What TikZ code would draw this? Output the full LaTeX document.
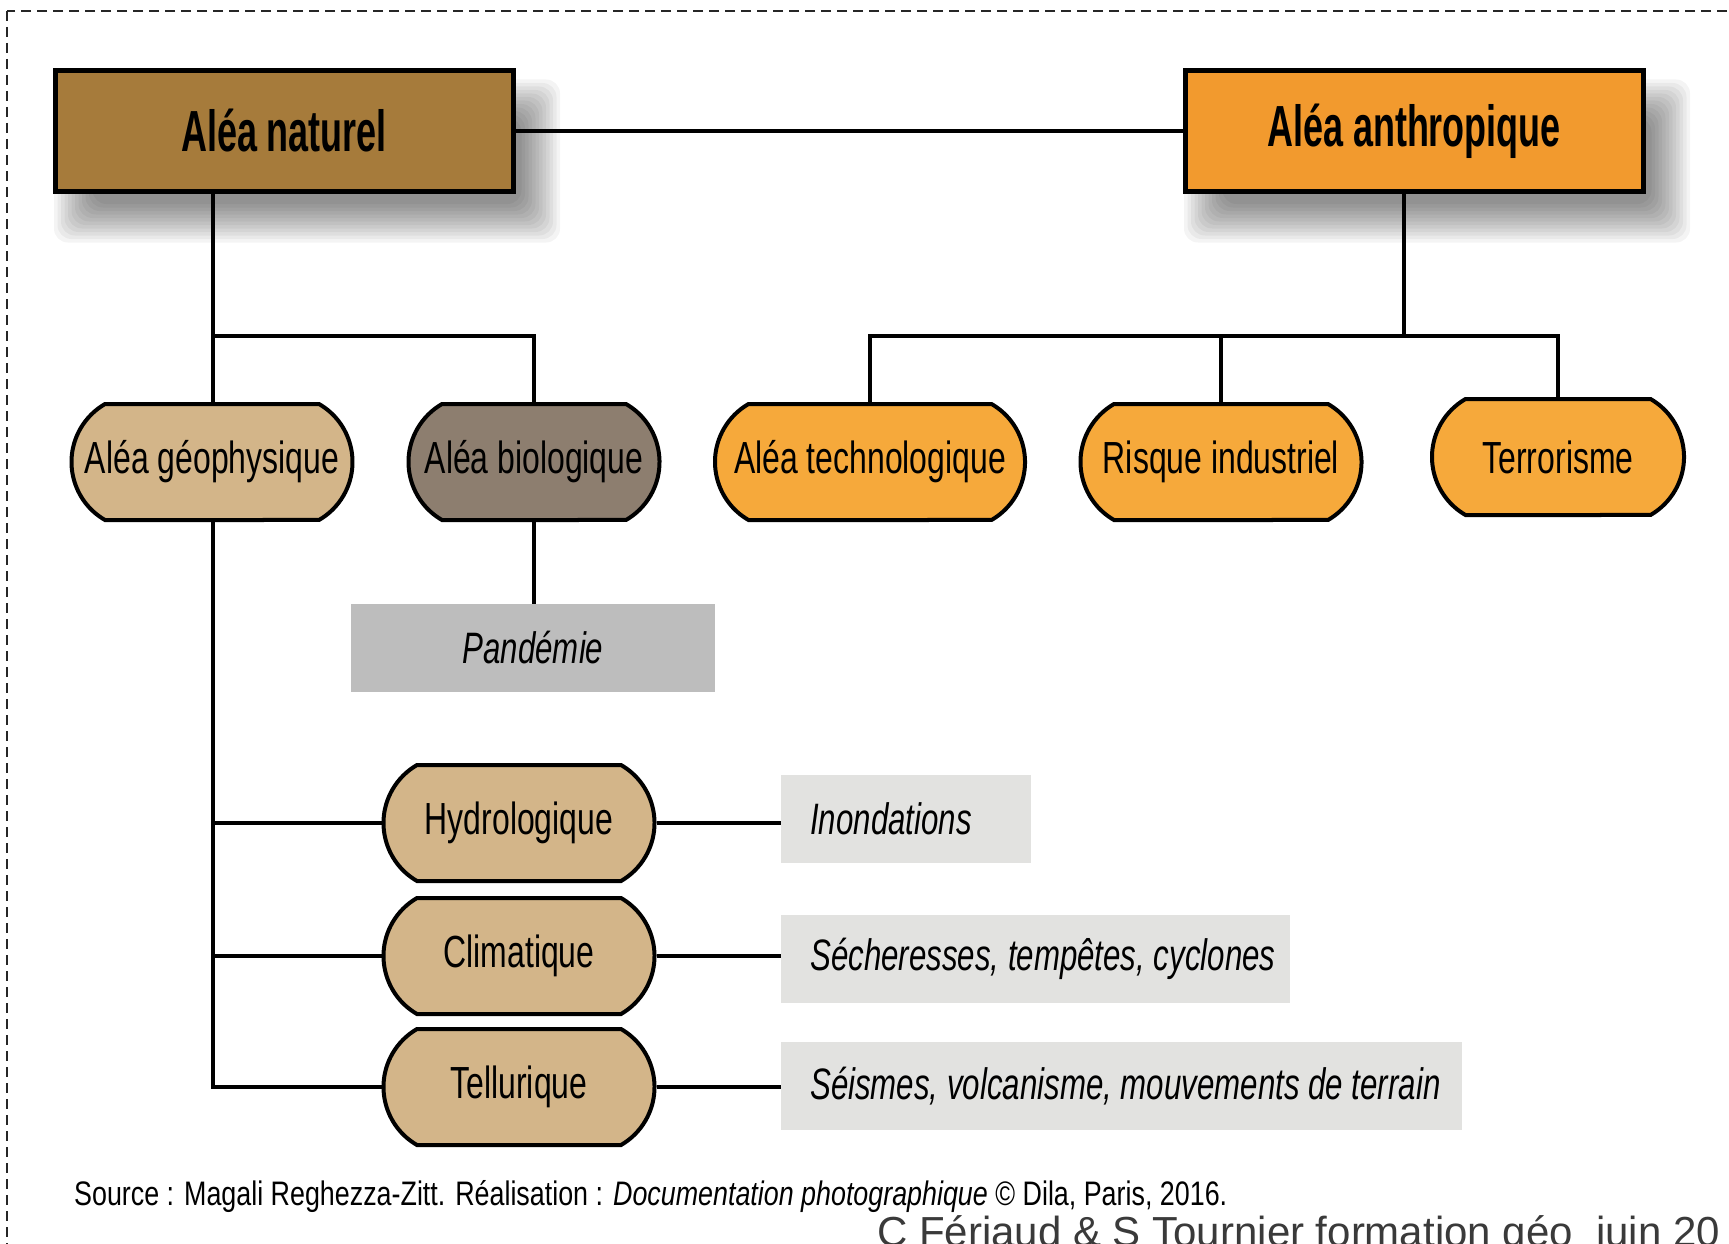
\documentclass[tikz,border=0pt]{standalone}
\usepackage{fontspec}
\setmainfont{Liberation Sans}
\newfontfamily\condf[FakeStretch=0.71]{Liberation Sans}
\newfontfamily\titlef[FakeStretch=0.62]{Liberation Sans}
\newfontfamily\srcf[FakeStretch=0.79]{Liberation Sans}
\usetikzlibrary{shapes.misc,backgrounds}
\definecolor{natfill}{HTML}{A67B3B}
\definecolor{anthfill}{HTML}{F29A2E}
\definecolor{orangepill}{HTML}{F6A93B}
\definecolor{tanfill}{HTML}{D3B589}
\definecolor{biofill}{HTML}{8D7E6F}
\definecolor{pandfill}{HTML}{BDBDBD}
\definecolor{lgray}{HTML}{E2E2E0}
\definecolor{credgray}{HTML}{3A3A3A}
\begin{document}
\begin{tikzpicture}[x=1pt,y=-1pt,
  conn/.style={line width=3.5pt, black},
  titlebox/.style={draw, line width=5pt, rectangle, minimum height=121pt, inner sep=0pt,
    font=\titlef\bfseries\fontsize{58}{64}\selectfont},
  pill/.style={draw, line width=4pt, rounded rectangle, rounded rectangle arc length=120,
    minimum height=116pt, inner xsep=-40pt, inner ysep=0pt,
    font=\condf\fontsize{45}{50}\selectfont},
  graybox/.style={fill=lgray, anchor=west, inner xsep=29pt, inner ysep=0pt, minimum height=88pt,
    font=\condf\itshape\fontsize{44}{50}\selectfont},
  border/.style={line width=2.5pt, draw=black!85, dash pattern=on 10pt off 6pt}]
\useasboundingbox (0,0) rectangle (1729,1244);
\clip (0,0) rectangle (1729,1244);
\draw[border] (7,11) rectangle (1780,1290);

% title boxes
\node[titlebox, fill=natfill, minimum width=458pt] (nat) at (284,131) {Aléa naturel};
\node[titlebox, fill=anthfill, minimum width=458pt] (anth) at (1414,131) {Aléa anthropique};

% pills (minimum width = width of the straight part)
\node[pill, fill=tanfill, minimum width=201pt] (geo) at (212,462) {Aléa géophysique};
\node[pill, fill=biofill, minimum width=171pt] (bio) at (534,462) {Aléa biologique};
\node[pill, fill=orangepill, minimum width=230pt] (tech) at (870,462) {Aléa technologique};
\node[pill, fill=orangepill, minimum width=201pt] (ind) at (1221,462) {Risque industriel};
\node[pill, fill=orangepill, minimum width=172pt] (terr) at (1558,457) {Terrorisme};
\node[pill, fill=tanfill, minimum width=191pt] (hyd) at (519,823) {Hydrologique};
\node[pill, fill=tanfill, minimum width=191pt] (cli) at (519,956) {Climatique};
\node[pill, fill=tanfill, minimum width=191pt] (tel) at (519,1087) {Tellurique};

% gray boxes
\node[fill=pandfill, minimum width=364pt, minimum height=88pt, inner sep=0pt,
  font=\condf\itshape\fontsize{44}{50}\selectfont] (pand) at (533,648) {Pandémie};
\node[graybox] (ino) at (781,819) {\makebox[192pt][l]{Inondations}};
\node[graybox] (sec) at (781,959) {\makebox[451pt][l]{Sécheresses, tempêtes, cyclones}};
\node[graybox] (sei) at (781,1086) {\makebox[623pt][l]{Séismes, volcanisme, mouvements de terrain}};

% texts
\node[anchor=west, inner sep=0pt, font=\srcf\fontsize{34}{38}\selectfont] (src) at (74,1196)
  {Source : Magali Reghezza-Zitt. Réalisation : \textit{Documentation photographique} © Dila, Paris, 2016.};
\node[anchor=west, inner sep=0pt, text=credgray, font=\fontsize{42}{46}\selectfont] (cred) at (877,1235)
  {C Fériaud \& S Tournier formation géo\ \ juin 20};

% connectors
\coordinate (j1) at (213,336);
\coordinate (ja) at (1404,336);
\draw[conn] (nat) -- (anth);
\draw[conn] (j1 |- nat.south) -- (j1 |- geo.north);
\draw[conn] (j1) -| (bio.north);
\draw[conn] (ja |- anth.south) -- (ja);
\draw[conn] (tech.north) |- (terr.north |- ja) -- (terr.north);
\draw[conn] (ind.north) -- (ind.north |- ja);
\draw[conn] (bio.south) -- (bio.south |- pand.north);
\draw[conn] (j1 |- geo.south) -- (j1 |- tel.west) -- (tel.west);
\draw[conn] (j1 |- hyd.west) -- (hyd.west);
\draw[conn] (j1 |- cli.west) -- (cli.west);
\draw[conn] (hyd.east) -- (hyd.east -| ino.west);
\draw[conn] (cli.east) -- (cli.east -| sec.west);
\draw[conn] (tel.east) -- (tel.east -| sei.west);

\begin{scope}[on background layer]
\fill[white] (0,0) rectangle (1729,1244);
\foreach \k in {0,...,11} {
  \fill[black, opacity=0.042, rounded corners=14pt]
    ([shift={(40-3.5*\k,50-3.5*\k)}]nat.north west) rectangle ([shift={(6+3.5*\k,10+3.5*\k)}]nat.south east);
  \fill[black, opacity=0.042, rounded corners=14pt]
    ([shift={(40-3.5*\k,50-3.5*\k)}]anth.north west) rectangle ([shift={(6+3.5*\k,10+3.5*\k)}]anth.south east);
}
\end{scope}
\end{tikzpicture}
\end{document}
